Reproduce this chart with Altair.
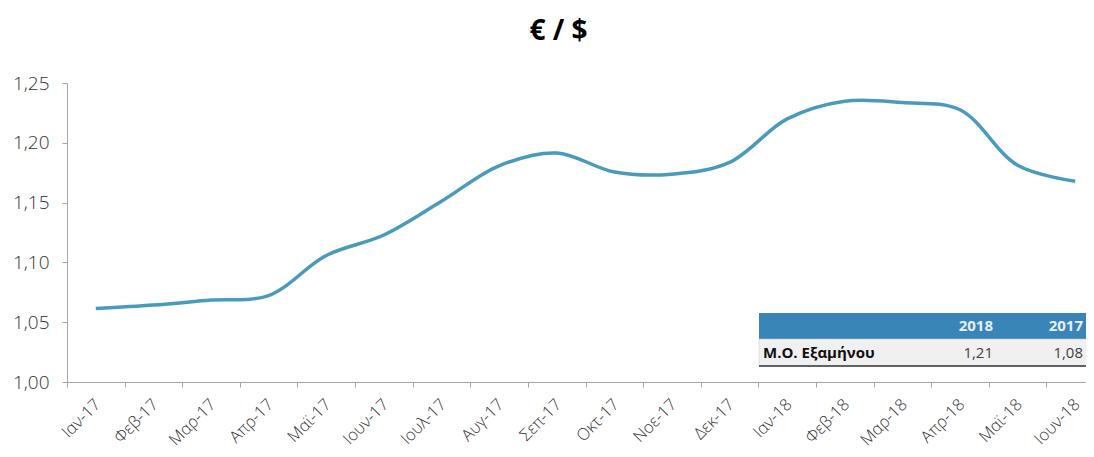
import altair as alt
import pandas as pd

months = ["Ιαν-17", "Φεβ-17", "Μαρ-17", "Απρ-17", "Μαϊ-17", "Ιουν-17", "Ιουλ-17", "Αυγ-17", "Σεπ-17",
          "Οκτ-17", "Νοε-17", "Δεκ-17", "Ιαν-18", "Φεβ-18", "Μαρ-18", "Απρ-18", "Μαϊ-18", "Ιουν-18"]
rates = [1.0614, 1.0643, 1.0685, 1.0723, 1.1058, 1.1229, 1.1511, 1.1807, 1.1915,
         1.1756, 1.1738, 1.1836, 1.2200, 1.2348, 1.2336, 1.2276, 1.1812, 1.1678]

table_years = ["2018", "2017"]
table_values = ["1,21", "1,08"]
table_label = "Μ.Ο. Εξαμήνου"

df = pd.DataFrame({"month": months, "rate": rates})

FONT = "Open Sans"
W, H = 1019, 299

line = alt.Chart(df).mark_line(
    interpolate="catmull-rom", color="#4a9abc", strokeWidth=3.5
).encode(
    x=alt.X("month:N", sort=months,
            scale=alt.Scale(type="band", paddingInner=0, paddingOuter=0, range=[0, 1037]),
            axis=alt.Axis(title=None, labelAngle=-45, tickBand="extent", tickSize=5,
                          domainColor="#a6a6a6", tickColor="#a6a6a6",
                          labelFont=FONT, labelFontSize=16.5, labelColor="#333333",
                          labelFontWeight=300, labelPadding=9, labelOffset=-4, grid=False)),
    y=alt.Y("rate:Q", scale=alt.Scale(domain=[1.0, 1.25], nice=False, zero=False),
            axis=alt.Axis(title=None, values=[1.0, 1.05, 1.10, 1.15, 1.20, 1.25],
                          labelExpr="replace(format(datum.value, '.2f'), '.', ',')",
                          tickSize=5, domainColor="#a6a6a6", tickColor="#a6a6a6",
                          labelFont=FONT, labelFontSize=19, labelColor="#333333",
                          labelFontWeight=300, labelPadding=13, grid=False)),
)

# summary table (annotation)
tx0, tx1 = 692, 1100
header = alt.Chart(pd.DataFrame({"a": [0]})).mark_rect(color="#3985b8").encode(
    x=alt.value(tx0), x2=alt.value(tx1), y=alt.value(230), y2=alt.value(256))
row = alt.Chart(pd.DataFrame({"a": [0]})).mark_rect(
    color="#f0f0f0", stroke="#c8c8c8", strokeWidth=0.5).encode(
    x=alt.value(tx0), x2=alt.value(tx1), y=alt.value(256), y2=alt.value(283))
bottom = alt.Chart(pd.DataFrame({"a": [0]})).mark_rule(color="#333333", strokeWidth=1.5).encode(
    x=alt.value(tx0), x2=alt.value(tx1), y=alt.value(283))

col_x = [926, 1016]
hdr_df = pd.DataFrame({"t": table_years, "px": col_x})
hdr_text = alt.Chart(hdr_df).mark_text(
    align="right", baseline="middle", font=FONT, fontSize=15, fontWeight="bold", color="#e8eef4"
).encode(x=alt.X("px:Q", scale=None), y=alt.value(243), text="t:N")

val_df = pd.DataFrame({"t": table_values, "px": col_x})
val_text = alt.Chart(val_df).mark_text(
    align="right", baseline="middle", font=FONT, fontSize=15, color="#404040"
).encode(x=alt.X("px:Q", scale=None), y=alt.value(270), text="t:N")

lab_text = alt.Chart(pd.DataFrame({"t": [table_label]})).mark_text(
    align="left", baseline="middle", font=FONT, fontSize=15, fontWeight="bold", color="#111111"
).encode(x=alt.value(696), y=alt.value(270), text="t:N")

chart = alt.layer(line, header, row, bottom, hdr_text, val_text, lab_text).resolve_scale(
    x="independent"
).properties(
    width=W, height=H,
    title=alt.TitleParams("€ / $", font=FONT, fontSize=28, fontWeight="bold",
                          color="#000000", anchor="middle", dx=-18, offset=28),
    autosize=alt.AutoSizeParams(type="none"),
    padding={"left": 59, "top": 75, "right": 0, "bottom": 67},
).configure_view(stroke=None)

chart.save("out.html", embed_options={"renderer": "svg", "actions": False})
